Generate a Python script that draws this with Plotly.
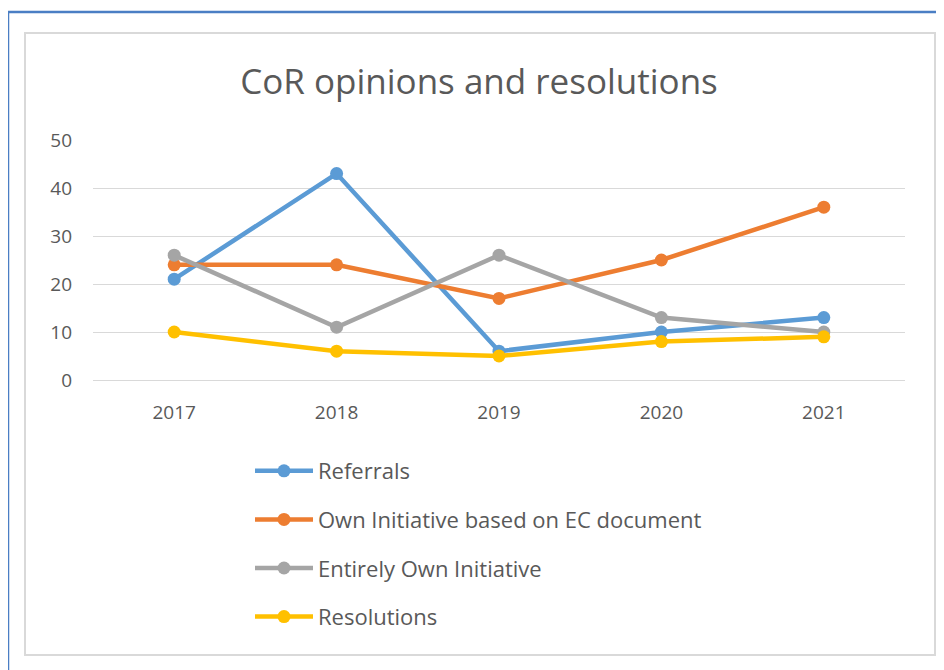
import plotly.graph_objects as go

# page body has an 8px margin; build the figure in page-pixel coordinates
OFF = 8
W, H = 944 - OFF, 670 - OFF

years = ["2017", "2018", "2019", "2020", "2021"]
referrals = [21, 43, 6, 10, 13]
own_initiative_ec = [24, 24, 17, 25, 36]
entirely_own = [26, 11, 26, 13, 10]
resolutions = [10, 6, 5, 8, 9]

series_names = ["Referrals", "Own Initiative based on EC document",
                "Entirely Own Initiative", "Resolutions"]
series_values = [referrals, own_initiative_ec, entirely_own, resolutions]
colors = ["#5B9BD5", "#ED7D31", "#A5A5A5", "#FFC000"]


def px(x):
    return (x - OFF) / W


def py(y):
    return 1 - (y - OFF) / H


fig = go.Figure()
for i, (name, vals, c) in enumerate(zip(series_names, series_values, colors)):
    fig.add_trace(go.Scatter(
        x=years, y=vals, name=name, mode="lines+markers",
        line=dict(color=c, width=4.5),
        marker=dict(color=c, size=13),
        legendgroup=f"g{i}",
    ))

font_family = "Open Sans, Lato, sans-serif"

fig.update_layout(
    template="none",
    width=W, height=H, autosize=False,
    margin=dict(l=0, r=0, t=0, b=0, pad=0, autoexpand=False),
    paper_bgcolor="white", plot_bgcolor="white",
    font=dict(family=font_family, color="#595959", size=19),
    title=dict(text="CoR opinions and resolutions", x=px(479), y=py(82),
               xref="paper", yref="paper", automargin=False,
               xanchor="center", yanchor="middle",
               font=dict(size=35, color="#595959", family=font_family)),
    xaxis=dict(domain=[px(93), px(905)], type="category",
               range=[-0.5, 4.5], showgrid=False, showline=False,
               ticks="", tickfont=dict(size=19, color="#595959"),
               zeroline=False, automargin=False, ticklabelstandoff=19),
    yaxis=dict(domain=[py(380), py(140)], range=[0, 50], dtick=10,
               showgrid=True, gridcolor="#D9D9D9", gridwidth=1.2,
               zeroline=True, zerolinecolor="#D9D9D9", zerolinewidth=1.2,
               showline=False, ticks="", ticklabelstandoff=20,
               tickfont=dict(size=19, color="#595959"), automargin=False),
    showlegend=True,
    legend=dict(x=px(250), y=py(450), xanchor="left", yanchor="top",
                orientation="v", tracegroupgap=17,
                font=dict(size=22, color="#595959", family=font_family),
                bgcolor="rgba(0,0,0,0)", borderwidth=0, itemwidth=58),
    shapes=[
        dict(type="rect", xref="paper", yref="paper",
             x0=px(8), x1=px(1000), y0=py(720), y1=py(12),
             line=dict(color="#4A7EC4", width=2.5), fillcolor="rgba(0,0,0,0)",
             layer="below"),
        dict(type="rect", xref="paper", yref="paper",
             x0=px(25), x1=px(935), y0=py(655), y1=py(33),
             line=dict(color="#D9D9D9", width=2), fillcolor="rgba(0,0,0,0)",
             layer="below"),
    ],
)

fig.write_html("out.html")
